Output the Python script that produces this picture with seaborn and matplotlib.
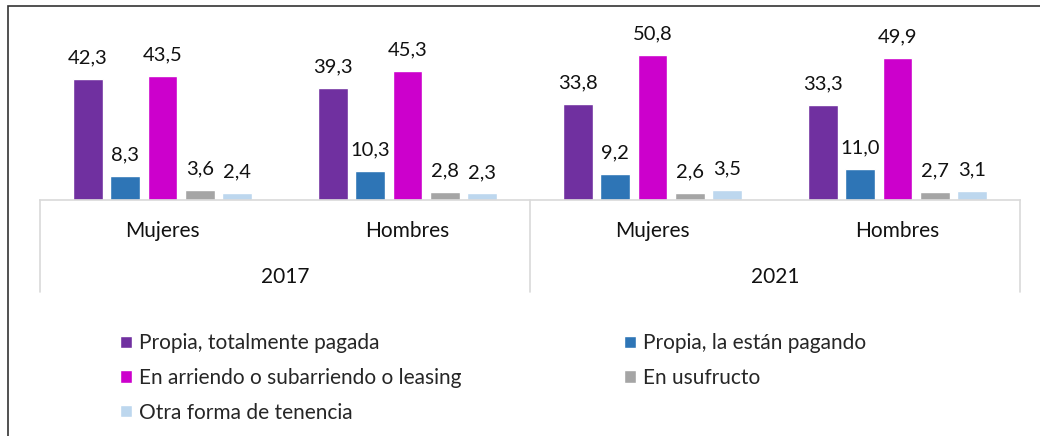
import pandas as pd
import matplotlib.pyplot as plt
import seaborn as sns
from matplotlib.patches import Rectangle, Patch

# Data
years = ["2017", "2017", "2021", "2021"]
sexes = ["Mujeres", "Hombres", "Mujeres", "Hombres"]
series = ["Propia, totalmente pagada", "Propia, la están pagando",
          "En arriendo o subarriendo o leasing", "En usufructo",
          "Otra forma de tenencia"]
propia_pagada = [42.3, 39.3, 33.8, 33.3]
propia_pagando = [8.3, 10.3, 9.2, 11.0]
arriendo = [43.5, 45.3, 50.8, 49.9]
usufructo = [3.6, 2.8, 2.6, 2.7]
otra = [2.4, 2.3, 3.5, 3.1]
colors = ["#7030A0", "#2E75B6", "#CC00CC", "#A5A5A5", "#BDD7EE"]

groups = [s + " " + y for s, y in zip(sexes, years)]
values = [propia_pagada, propia_pagando, arriendo, usufructo, otra]
rows = []
for name, vals in zip(series, values):
    for g, v in zip(groups, vals):
        rows.append({"grupo": g, "tenencia": name, "pct": v})
df = pd.DataFrame(rows)

sns.set_theme(style="white")
plt.rcParams["font.family"] = ["Lato", "DejaVu Sans"]

fig = plt.figure(figsize=(10.4, 4.36), dpi=100)
ax = fig.add_axes([40 / 1040, 1 - 200 / 436, 980 / 1040, 185 / 436])

sns.barplot(data=df, x="grupo", y="pct", hue="tenencia", order=groups,
            hue_order=series, palette=colors, width=0.765, gap=0.2,
            saturation=1, ax=ax)

for cont in ax.containers:
    labels = [f"{b.get_height():.1f}".replace(".", ",") for b in cont]
    ax.bar_label(cont, labels=labels, padding=9, fontsize=14.5, color="#111111")

ax.set_ylim(0, 64.8)
ax.set_xlim(-0.5, 3.5)
ax.set_yticks([])
ax.set_xticks([])
ax.set_xlabel("")
ax.set_ylabel("")
for s in ["top", "left", "right"]:
    ax.spines[s].set_visible(False)
ax.spines["bottom"].set_color("#D9D9D9")
ax.spines["bottom"].set_linewidth(1.2)

# multi-level category axis
trans = ax.get_xaxis_transform()
for xs in [-0.5, 1.5, 3.5]:
    ax.plot([xs, xs], [0, -92 / 185], transform=trans, color="#D9D9D9",
            lw=1.2, clip_on=False)
for i, s in enumerate(sexes):
    ax.text(i, -31 / 185, s, transform=trans, ha="center", va="center",
            fontsize=15, color="#111111")
for i, y in enumerate(["2017", "2021"]):
    ax.text(2 * i + 0.5, -77 / 185, y, transform=trans, ha="center",
            va="center", fontsize=15, color="#111111")

ax.get_legend().remove()
handles = [Patch(facecolor=c) for c in colors]
leg_kw = dict(loc="upper left", frameon=False, fontsize=15,
              handlelength=0.55, handleheight=0.55, handletextpad=0.35,
              labelspacing=0.7, borderaxespad=0)
fig.legend([handles[0], handles[2], handles[4]],
           [series[0], series[2], series[4]],
           bbox_to_anchor=(112 / 1040, 1 - 325 / 436), **leg_kw)
fig.legend([handles[1], handles[3]], [series[1], series[3]],
           bbox_to_anchor=(616 / 1040, 1 - 325 / 436), **leg_kw)

# outer chart border
fig.patches.append(Rectangle((8 / 1040, -0.05), 1.2, 1.05 - 6 / 436,
                             transform=fig.transFigure, fill=False,
                             edgecolor="#333333", lw=1.2))

fig.savefig("out.png", dpi=100)
